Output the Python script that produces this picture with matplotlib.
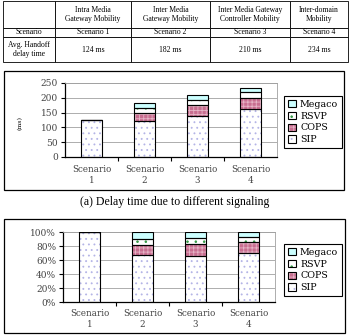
import numpy as np
import matplotlib.pyplot as plt
from matplotlib.patches import Rectangle

## Data
scenarios = ["Scenario\n1", "Scenario\n2", "Scenario\n3", "Scenario\n4"]
sip = [124, 122, 138, 163]
cops = [0, 26, 37, 37]
rsvp = [0, 17, 18, 18]
megaco = [0, 17, 17, 16]

tab_head = ["", "Intra Media\nGateway Mobility", "Inter Media\nGateway Mobility",
            "Inter Media Gateway\nController Mobility", "Inter-domain\nMobility"]
tab_scen = ["Scenario", "Scenario 1", "Scenario 2", "Scenario 3", "Scenario 4"]
tab_delay = [124, 182, 210, 234]

plt.rcParams['hatch.linewidth'] = 0.6

W, H = 350, 336
fig = plt.figure(figsize=(3.5, 3.36), dpi=100)


def box(l, t, r, b):
    # pixel box -> figure fractions
    return [l / W, 1 - b / H, (r - l) / W, (b - t) / H]


## Table at the top
tax = fig.add_axes(box(3, 1, 348, 62))
tax.axis('off')
cells = [tab_head, tab_scen, ["Avg. Handoff\ndelay time"] + ["%d ms" % d for d in tab_delay]]
colw = [52, 76, 79, 80, 58]
tbl = tax.table(cellText=cells, colWidths=[c / sum(colw) for c in colw],
                cellLoc='center', bbox=[0, 0, 1, 1])
tbl.auto_set_font_size(False)
tbl.set_fontsize(5.5)
rowh = [27, 9, 25]
for (r, c), cell in tbl.get_celld().items():
    cell.set_height(rowh[r] / sum(rowh))
    cell.set_linewidth(0.6)
    cell.get_text().set_fontfamily('Liberation Serif')

## Stacked bar charts
layers = [
    ("SIP", sip, "white", "...", "#b4b4e6"),
    ("COPS", cops, "#c86e90", "++++", "#e6b4c6"),
    ("RSVP", rsvp, "white", "..", "#339944"),
    ("Megaco", megaco, "#ccffff", None, "#ccffff"),
]
x = np.arange(len(scenarios))
tot = np.array(sip) + np.array(cops) + np.array(rsvp) + np.array(megaco)


def chart(axbox, frame, leg_xy, scale, ylim, yticks, ylabels, pad):
    fig.add_artist(Rectangle((frame[0] / W, 1 - frame[3] / H),
                             (frame[2] - frame[0]) / W, (frame[3] - frame[1]) / H,
                             transform=fig.transFigure, fill=False, ec='black', lw=0.9))
    ax = fig.add_axes(box(*axbox))
    bottoms = np.zeros(len(x))
    handles = []
    for name, vals, face, hatch, hcol in layers:
        v = np.array(vals) / scale
        hb = ax.bar(x, v, 0.4, bottom=bottoms, color=face, hatch=hatch,
                    edgecolor=hcol, linewidth=0, zorder=2)
        eb = ax.bar(x, v, 0.4, bottom=bottoms, fill=False,
                    edgecolor='black', linewidth=0.8, zorder=3)
        bottoms += v
        handles.append((hb[0], eb[0]))
    ax.set_xlim(-0.5, 3.5)
    ax.set_ylim(*ylim)
    ax.set_yticks(yticks)
    ax.set_yticklabels(ylabels, family='DejaVu Serif', fontsize=6.5, color='#444444')
    ax.set_xticks(x)
    ax.set_xticklabels(scenarios, family='DejaVu Serif', fontsize=6.3,
                       color='#444444', linespacing=1.25)
    ax.set_xticks([0.5, 1.5, 2.5], minor=True)
    ax.tick_params(axis='x', which='major', length=0, pad=pad)
    ax.tick_params(axis='x', which='minor', length=3, width=0.8)
    ax.tick_params(axis='y', length=3, width=0.8, pad=2)
    ax.yaxis.grid(True, color='#a0a0a0', lw=0.6)
    ax.set_axisbelow(True)
    for s in ['top', 'right']:
        ax.spines[s].set_color('#a0a0a0')
        ax.spines[s].set_linewidth(0.6)
    for s in ['left', 'bottom']:
        ax.spines[s].set_linewidth(0.9)
    names = [l[0] for l in layers]
    leg = fig.legend(handles[::-1], names[::-1], loc='upper left',
                     bbox_to_anchor=(leg_xy[0] / W, 1 - leg_xy[1] / H),
                     prop={'family': 'DejaVu Serif', 'size': 6.8},
                     fancybox=False, edgecolor='black', framealpha=1,
                     handlelength=0.9, handleheight=0.8, handletextpad=0.4,
                     labelspacing=0.3, borderpad=0.4, borderaxespad=0)
    leg.get_frame().set_linewidth(0.8)
    return ax


chart((65, 83, 277, 157), (4, 71, 344, 190), (284, 96), 1,
      (0, 250), range(0, 251, 50), [str(v) for v in range(0, 251, 50)], 6)
fig.text(20 / W, 1 - 123 / H, "(ms)", rotation=90, fontsize=4.5,
         family='DejaVu Serif', ha='center', va='center')
fig.text(175 / W, 1 - 202 / H, "(a) Delay time due to different signaling",
         family='Liberation Serif', fontsize=8.5, ha='center', va='center')

chart((63, 232, 275, 302), (4, 219, 345, 333), (284, 244), tot,
      (0, 1), np.arange(0, 1.01, 0.2), ["%d%%" % v for v in range(0, 101, 20)], 5)

fig.savefig('out.png', dpi=100)
